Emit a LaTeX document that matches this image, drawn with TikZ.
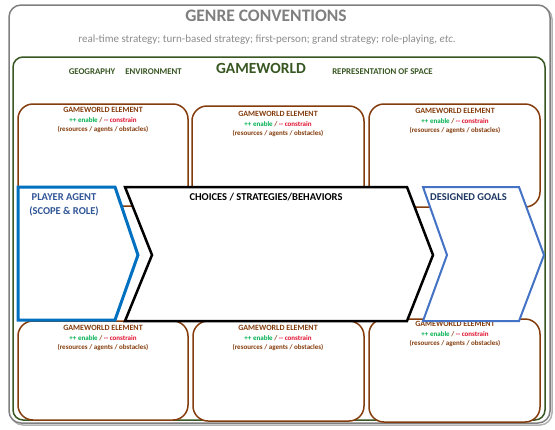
\documentclass[tikz,border=0pt]{standalone}
\usepackage{fontspec}
\setmainfont{Carlito}
\definecolor{ggray}{HTML}{7F7F7F}
\definecolor{sgray}{HTML}{8C8C8C}
\definecolor{gwgreen}{HTML}{385723}
\definecolor{brownc}{HTML}{843C0C}
\definecolor{engreen}{HTML}{00B050}
\definecolor{conred}{HTML}{E0102D}
\definecolor{pblue}{HTML}{0070C0}
\definecolor{ptext}{HTML}{2F5597}
\definecolor{gblue}{HTML}{4472C4}
\definecolor{gtext}{HTML}{1F3864}
\newcommand{\fsz}[1]{\fontsize{#1}{#1}\selectfont}
\tikzset{
  elembox/.style={draw=brownc, line width=1.5pt, rounded corners=15pt, fill=white},
  elemtxt/.style={align=center, inner sep=0pt, font=\bfseries\fsz{8}, text=brownc},
  arrowtxt/.style={inner sep=0pt, font=\bfseries\fsz{10.5}},
  gwtxt/.style={inner sep=0pt, font=\bfseries\fsz{8.8}, text=gwgreen},
}
\newcommand{\elemtext}{GAMEWORLD ELEMENT\\[1.2pt]{\fsz{7}\textcolor{engreen}{++ enable} / \textcolor{conred}{-{}- constrain}}\\[1.2pt]{\fsz{7}(resources / agents / obstacles)}}
\begin{document}
\begin{tikzpicture}[x=1pt,y=-1pt]
\useasboundingbox (0,0) rectangle (555,429);
% outer genre box with shadow
\draw[ggray!60, line width=1.5pt, rounded corners=12pt] (11,7) rectangle (552,425);
\draw[ggray, line width=1.5pt, rounded corners=12pt, fill=white] (9,5) rectangle (550,423);
\node[inner sep=0pt, font=\bfseries\fsz{17.5}, text=ggray] (genre) at (266,16) {GENRE CONVENTIONS};
\node[inner sep=0pt, font=\fsz{11}, text=sgray] (genres) at (267,40) {real-time strategy; turn-based strategy; first-person; grand strategy; role-playing, \textit{etc}.};
% gameworld box
\draw[gwgreen, line width=1.5pt, rounded corners=10pt] (13,57) rectangle (545,420);
\node[inner sep=0pt, font=\bfseries\fsz{15.5}, text=gwgreen] (gw) at (261,68) {GAMEWORLD};
\node[gwtxt] (geo) at (92,72) {GEOGRAPHY};
\node[gwtxt] (env) at (153.5,72) {ENVIRONMENT};
\node[gwtxt] (rep) at (382.5,72) {REPRESENTATION OF SPACE};
% top row elements
\draw[elembox] (18,104) rectangle (188,206);
\draw[elembox] (192,106) rectangle (364,208);
\draw[elembox] (369,104) rectangle (540,207);
\node[elemtxt] (e1) at (103,120) {\elemtext};
\node[elemtxt] (e2) at (278,124) {\elemtext};
\node[elemtxt] (e3) at (455,121) {\elemtext};
% bottom row elements
\draw[elembox] (18,321) rectangle (188,420);
\draw[elembox] (193,321) rectangle (364,421);
\draw[elembox] (369,319) rectangle (540,422);
\node[elemtxt] (e4) at (103,338) {\elemtext};
\node[elemtxt] (e5) at (278,338) {\elemtext};
\node[elemtxt] (e6) at (455,334) {\elemtext};
% chevrons
\draw[black, line width=2.5pt, fill=white, line join=miter] (125,187) -- (407,187) -- (433,255) -- (407,321) -- (125,321) -- (152,255) -- cycle;
\draw[gblue, line width=2pt, fill=white, line join=miter] (423,187) -- (519,187) -- (544,255) -- (519,321) -- (423,321) -- (447,255) -- cycle;
\draw[pblue, line width=3pt, fill=white, line join=miter] (18,187) -- (115,187) -- (138,255) -- (115,320) -- (18,320) -- cycle;
\node[arrowtxt, text=ptext, align=center] (pa) at (64,205) {PLAYER AGENT\\[3pt](SCOPE \& ROLE)};
\node[arrowtxt, text=black] (ch) at (266,197) {CHOICES / STRATEGIES/BEHAVIORS};
\node[arrowtxt, text=gtext] (dg) at (468.5,197) {DESIGNED GOALS};
\end{tikzpicture}
\end{document}
